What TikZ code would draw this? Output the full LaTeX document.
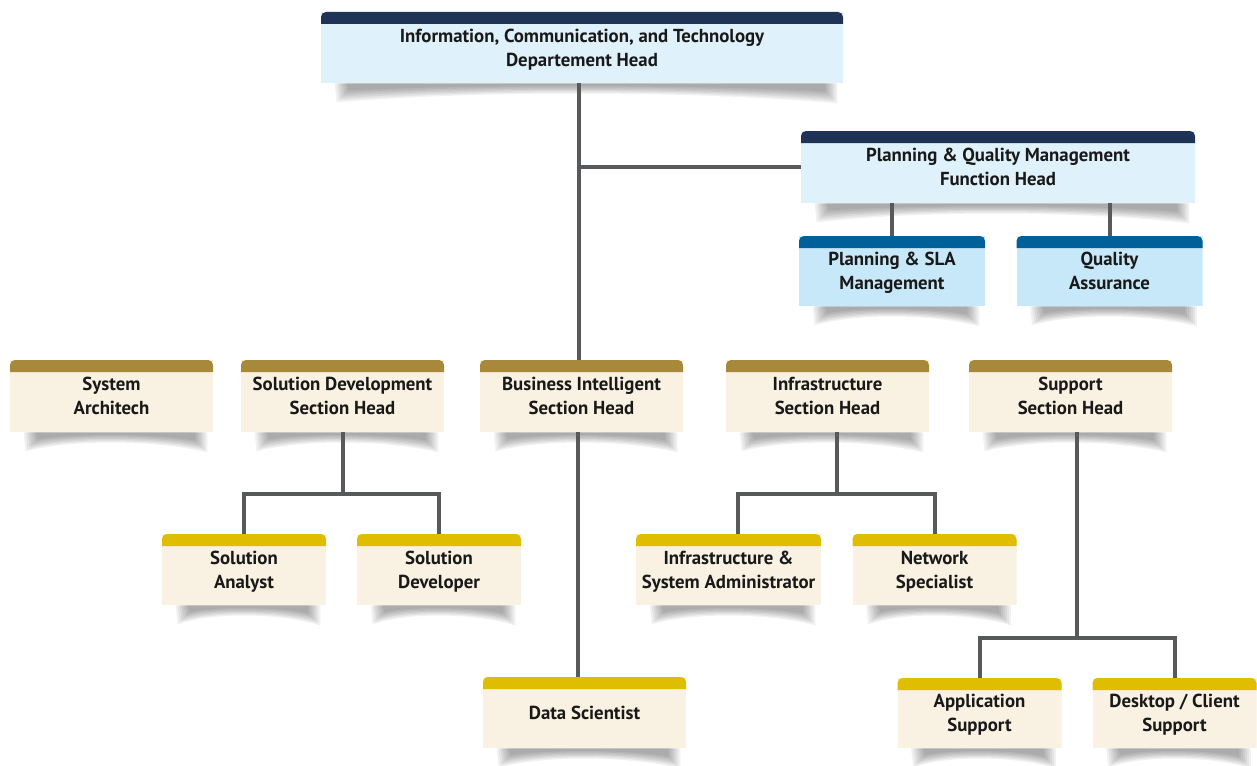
\documentclass[tikz,border=0pt]{standalone}
\usepackage{fontspec}
\setmainfont{PT Sans}
\usepackage{tikz}
\usetikzlibrary{positioning,calc}
\pgfdeclarelayer{background}
\pgfsetlayers{background,main}

\definecolor{navy}{HTML}{1F3356}
\definecolor{paleblue}{HTML}{DFF1FB}
\definecolor{steel}{HTML}{00609A}
\definecolor{skyblue}{HTML}{C7E8F9}
\definecolor{ochre}{HTML}{A8883A}
\definecolor{cream}{HTML}{F9F1E1}
\definecolor{mustard}{HTML}{DFBD00}
\definecolor{linkgray}{HTML}{58595B}

% curled soft shadow under a box
\newcommand{\curlshadow}[1]{%
  \foreach \dd in {0,1,...,6}{%
    \fill[black, opacity=0.055]
      ($(#1.south west)+(14+2*\dd,0)$) -- ($(#1.south east)+(-6-2*\dd,0)$)
      -- ($(#1.south east)+(-6-2*\dd,20-2*\dd)$)
      .. controls ($($(#1.south east)!0.3!(#1.south west)$)+(0,7-\dd)$)
      and ($($(#1.south west)!0.3!(#1.south east)$)+(0,7-\dd)$) ..
      ($(#1.south west)+(16+2*\dd,19-2*\dd)$) -- cycle;}}

\begin{document}
\begin{tikzpicture}[x=0.5pt, y=-0.5pt]
        % Style definitions
        \tikzset{
            orgbox/.style 2 args={rectangle, inner sep=0pt, align=center, text=black!90,
                font=\fontsize{9.4}{12}\selectfont\bfseries, minimum height=35.5pt, text depth=-3.5pt,
                path picture={
                    \fill[#2] (path picture bounding box.south west) rectangle (path picture bounding box.north east);
                    \fill[#1, rounded corners=2.5pt] ([yshift=-6pt]path picture bounding box.north west)
                        -- (path picture bounding box.north west) -- (path picture bounding box.north east)
                        [sharp corners] -- ([yshift=-6pt]path picture bounding box.north east) -- cycle;}},
            headbox/.style={orgbox={navy}{paleblue}},
            subbox/.style={orgbox={steel}{skyblue}, minimum width=93pt, minimum height=35pt},
            secbox/.style={orgbox={ochre}{cream}, minimum width=101.5pt, minimum height=36pt},
            unitbox/.style={orgbox={mustard}{cream}, minimum width=82pt},
            link/.style={draw=linkgray, line width=2pt}
        }
        \useasboundingbox (0,0) rectangle (1257,765);

        % Nodes
        \node [headbox, minimum width=261pt] (ict) at (582,47.5) {Information, Communication, and Technology\\Departement Head};
        \node [headbox, minimum width=197pt, minimum height=36pt] (pqm) at (998,167) {Planning \& Quality Management\\Function Head};
        \node [subbox] (psla) at (892,271) {Planning \& SLA\\Management};
        \node [subbox] (qa) at (1109.5,271) {Quality\\Assurance};

        \node [secbox] (arch) at (111.5,396) {System\\Architech};
        \node [secbox] (soldev) at (342.5,396) {Solution Development\\Section Head};
        \node [secbox] (bi) at (581.5,396) {Business Intelligent\\Section Head};
        \node [secbox] (infra) at (827.5,396) {Infrastructure\\Section Head};
        \node [secbox] (supp) at (1070.5,396) {Support\\Section Head};

        \node [unitbox] (analyst) at (244,569.5) {Solution\\Analyst};
        \node [unitbox] (developer) at (439,569.5) {Solution\\Developer};
        \node [unitbox, minimum width=92.5pt] (sysadm) at (728.5,569.5) {Infrastructure \&\\System Administrator};
        \node [unitbox] (network) at (934.5,569.5) {Network\\Specialist};
        \node [unitbox, minimum width=101.5pt] (dsci) at (584.5,712.5) {Data Scientist};
        \node [unitbox, minimum height=35pt] (appsup) at (979.5,713) {Application\\Support};
        \node [unitbox, minimum height=35pt] (desk) at (1174.5,713) {Desktop / Client\\Support};

        % Shadows
        \begin{pgfonlayer}{background}
            \foreach \n in {ict,pqm,psla,qa,arch,soldev,bi,infra,supp,analyst,developer,sysadm,network,dsci,appsup,desk}
                {\curlshadow{\n}}
        \end{pgfonlayer}

        % Connections
        \draw [link] ([xshift=-1.5pt]ict.south) -- ([xshift=-1.5pt]ict.south |- bi.north);
        \draw [link] ([xshift=-1.5pt]ict.south |- pqm.west) -- (pqm.west);
        \draw [link] (psla.north) -- (psla.north |- pqm.south);
        \draw [link] (qa.north) -- (qa.north |- pqm.south);

        \draw [link] (soldev.south) -- ++(0,62) -| (analyst.north);
        \draw [link] (soldev.south) ++(0,62) -| (developer.north);

        \draw [link] ([xshift=-2pt]bi.south) -- ([xshift=-2pt]bi.south |- dsci.north);

        \draw [link] ([xshift=4.75pt]infra.south) -- ++(0,62) -| ([xshift=4.75pt]sysadm.north);
        \draw [link] ([xshift=4.75pt]infra.south) ++(0,62) -| (network.north);

        \draw [link] ([xshift=3.25pt]supp.south) -- ++(0,206) -| (appsup.north);
        \draw [link] ([xshift=3.25pt]supp.south) ++(0,206) -| (desk.north);
    \end{tikzpicture}
\end{document}
